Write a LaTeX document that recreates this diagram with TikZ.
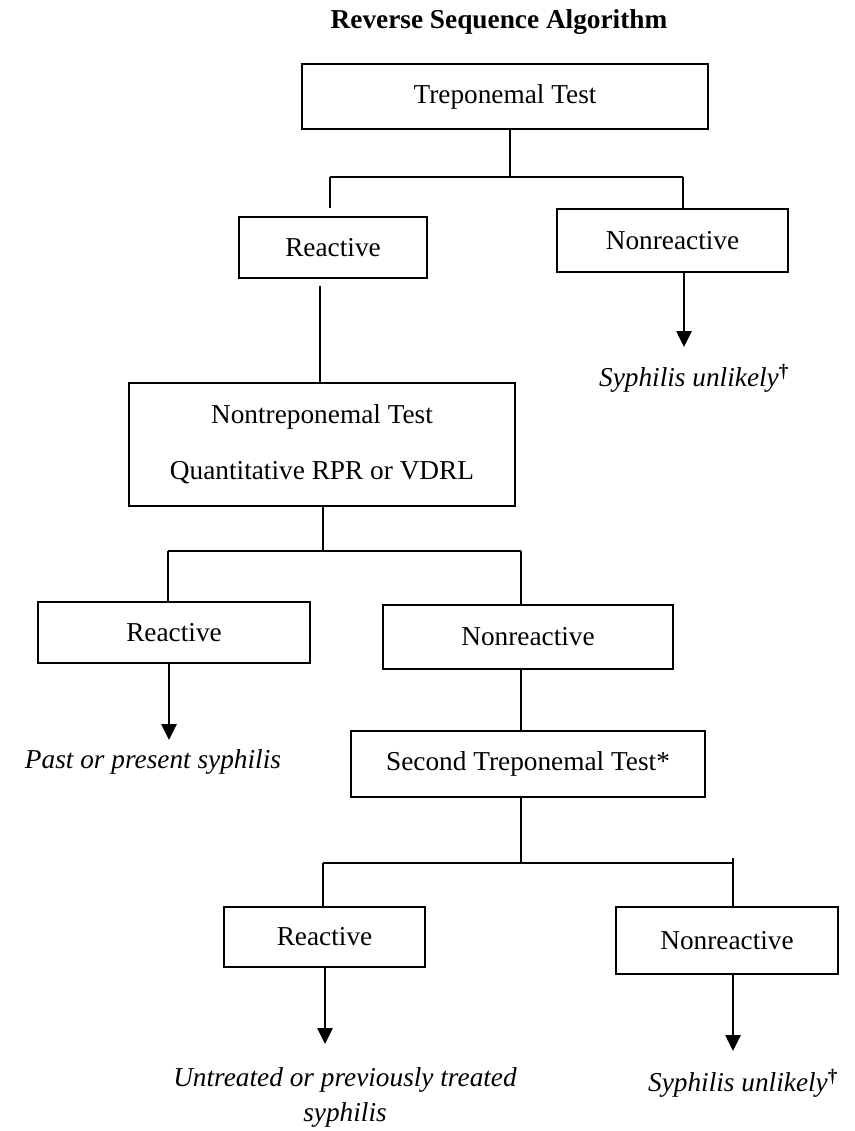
\documentclass[tikz,border=0pt]{standalone}
\usepackage{fontspec}
\setmainfont{Liberation Serif}
\usetikzlibrary{arrows.meta,calc}
\tikzset{
  box/.style={draw, line width=2.4pt, inner sep=0pt, font=\fontsize{27.3}{33}\selectfont},
  lbl/.style={inner sep=0pt, font=\fontsize{27.3}{35}\selectfont\itshape, align=center},
  conn/.style={line width=2.6pt},
  arr/.style={line width=2.6pt, -{Triangle[length=16pt,width=15pt]}}
}
\begin{document}
\begin{tikzpicture}[x=1pt,y=-1pt]
\useasboundingbox[fill=white] (0,0) rectangle (854,1131);
% title
\node[inner sep=0pt, font=\fontsize{27.3}{33}\selectfont\bfseries] (title) at (499,22) {Reverse Sequence Algorithm};
% boxes
\node[box, minimum width=406pt, minimum height=65pt] (t1) at (505,96.5) {Treponemal Test};
\node[box, minimum width=188pt, minimum height=61pt] (r1) at (333,247.5) {Reactive};
\node[box, minimum width=231pt, minimum height=63pt] (n1) at (672.5,240.5) {Nonreactive};
\node[lbl] (su1) at (694,378) {Syphilis unlikely\textsuperscript{\upshape\bfseries\dag}};
\node[box, minimum width=386pt, minimum height=123pt, align=center,
      font=\fontsize{27.3}{56}\selectfont] (nt) at (322,444.5) {Nontreponemal Test\\Quantitative RPR or VDRL};
\node[box, minimum width=272pt, minimum height=61pt] (r2) at (174,632.5) {Reactive};
\node[box, minimum width=290pt, minimum height=64pt] (n2) at (528,637) {Nonreactive};
\node[lbl] (pps) at (153,762) {Past or present syphilis};
\node[box, minimum width=354pt, minimum height=66pt] (st) at (528,764) {Second Treponemal Test*};
\node[box, minimum width=201pt, minimum height=60pt] (r3) at (324.5,937) {Reactive};
\node[box, minimum width=222pt, minimum height=67pt] (n3) at (727,940.5) {Nonreactive};
\node[lbl] (ut) at (345,1097) {Untreated or previously treated\\syphilis};
\node[lbl] (su2) at (743,1083) {Syphilis unlikely\textsuperscript{\upshape\bfseries\dag}};
% junction coordinates
\coordinate (j1) at (510,177);
\coordinate (j1l) at (330,177);
\coordinate (j1r) at (683,177);
\coordinate (g1) at (330,208);
\coordinate (g2) at (320,286);
\coordinate (a1) at (684,347);
\coordinate (j2) at (323,551);
\coordinate (j2l) at (168,551);
\coordinate (j2r) at (521,551);
\coordinate (a2) at (169,740);
\coordinate (j3) at (521,863);
\coordinate (j3l) at (323,863);
\coordinate (j3r) at (733,863);
\coordinate (j3t) at (733,858);
\coordinate (a3) at (325,1044);
\coordinate (a4) at (733,1051);
% first level
\draw[conn] (t1.south -| j1) -- (j1);
\draw[conn] (j1l) -- (j1r);
\draw[conn] (j1l) -- (g1);
\draw[conn] (j1r) -- (n1.north -| j1r);
\draw[arr] (n1.south -| a1) -- (a1);
\draw[conn] (g2) -- (nt.north -| g2);
% second level
\draw[conn] (nt.south -| j2) -- (j2);
\draw[conn] (j2l) -- (j2r);
\draw[conn] (j2l) -- (r2.north -| j2l);
\draw[conn] (j2r) -- (n2.north -| j2r);
\draw[arr] (r2.south -| a2) -- (a2);
\draw[conn] (n2.south -| j2r) -- (st.north -| j2r);
% third level
\draw[conn] (st.south -| j3) -- (j3);
\draw[conn] (j3l) -- (j3r);
\draw[conn] (j3l) -- (r3.north -| j3l);
\draw[conn] (j3t) -- (n3.north -| j3r);
\draw[arr] (r3.south -| a3) -- (a3);
\draw[arr] (n3.south -| a4) -- (a4);
\end{tikzpicture}
\end{document}
